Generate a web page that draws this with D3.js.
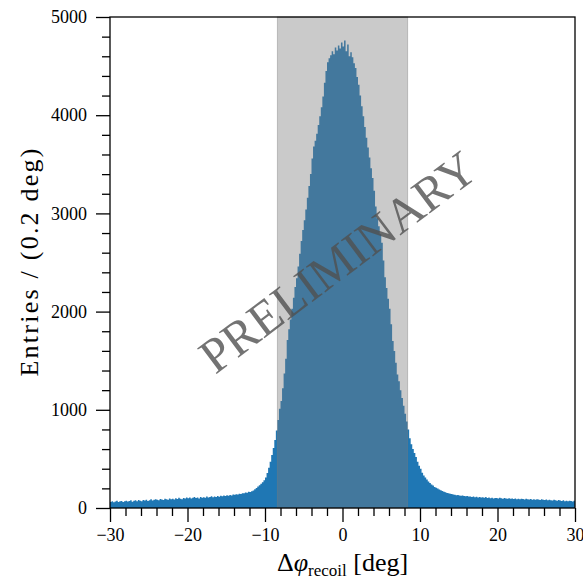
<!DOCTYPE html>
<html>
<head>
<meta charset="utf-8">
<script src="https://cdn.jsdelivr.net/npm/d3@7"></script>
<style>
    body { margin: 0; background: #fff; }
    svg text { font-family: 'Liberation Serif', 'DejaVu Serif', serif; fill: #000; }
</style>
</head>
<body>
<div id="chart"></div>
<script>
// histogram range and bin width (deg)
const binLow = -30
const binHigh = 30
const binWidth = 0.2

// entries per 0.2 deg bin (left to right)
const counts = [
    62, 70, 58, 66, 74, 61, 69, 72, 60, 68,
    75, 66, 71, 80, 64, 73, 78, 69, 82, 74,
    70, 81, 77, 85, 72, 79, 88, 76, 83, 90,
    84, 78, 92, 86, 81, 95, 88, 84, 97, 90,
    93, 87, 99, 92, 104, 95, 90, 101, 97, 106,
    99, 108, 96, 104, 111, 101, 107, 98, 113, 105,
    110, 104, 116, 108, 113, 120, 109, 117, 112, 122,
    115, 124, 119, 127, 121, 130, 125, 133, 128, 137,
    134, 141, 138, 146, 143, 151, 149, 158, 155, 165,
    162, 171, 178, 190, 203, 218, 232, 246, 263, 282,
    310, 356, 410, 470, 540, 610, 692, 790, 896, 1010,
    1090, 1220, 1370, 1520, 1710, 1820, 1920, 2030, 2140, 2250,
    2340, 2460, 2590, 2720, 2830, 2930, 3040, 3160, 3280, 3400,
    3560, 3680, 3740, 3810, 3900, 3990, 4080, 4190, 4330, 4450,
    4540, 4580, 4610, 4650, 4620, 4690, 4660, 4710, 4680, 4740,
    4700, 4760, 4650, 4720, 4600, 4640, 4590, 4530, 4480, 4390,
    4310, 4200, 4090, 3990, 3880, 3770, 3670, 3570, 3460, 3360,
    3230, 3070, 2950, 2870, 2790, 2700, 2520, 2350, 2240, 2130,
    2030, 1870, 1700, 1600, 1480, 1360, 1290, 1200, 1120, 1040,
    960, 880, 800, 710, 650, 600, 560, 520, 470, 430,
    400, 360, 330, 310, 290, 270, 255, 240, 228, 215,
    206, 198, 188, 180, 172, 166, 160, 153, 150, 145,
    142, 138, 136, 131, 133, 127, 124, 128, 121, 119,
    122, 116, 118, 113, 117, 110, 114, 108, 112, 106,
    109, 104, 111, 102, 106, 100, 105, 98, 103, 101,
    97, 104, 99, 95, 101, 96, 93, 99, 94, 97,
    92, 98, 90, 95, 88, 94, 91, 86, 93, 89,
    87, 92, 85, 90, 83, 88, 86, 81, 89, 84,
    82, 87, 79, 84, 80, 76, 83, 78, 74, 81,
    77, 72, 79, 70, 75, 68, 74, 71, 66, 73,
]

// selection window
const windowLow = -8.4
const windowHigh = 8.4

// ticks
const xMajorTicks = [-30, -20, -10, 0, 10, 20, 30]
const xMinorTicks = d3.range(-28, 30, 2).filter((v) => v % 10 !== 0)
const yMajorTicks = [0, 1000, 2000, 3000, 4000, 5000]
const yMinorTicks = d3.range(200, 5000, 200).filter((v) => v % 1000 !== 0)

const watermark = 'PRELIMINARY'

// set up dimensions and margins
const width = 583
const height = 579
const margin = { top: 17, right: 8, bottom: 71, left: 110 }

const svg = d3
    .select('#chart')
    .append('svg')
    .attr('width', width)
    .attr('height', height)

// x scale
const x = d3
    .scaleLinear()
    .domain([binLow, binHigh])
    .range([margin.left, width - margin.right])

// y scale
const y = d3
    .scaleLinear()
    .domain([0, 5000])
    .range([height - margin.bottom, margin.top])

// bins: left edge + count, plus closing edge for the step
const bins = counts.map((c, i) => ({ x0: binLow + i * binWidth, v: c }))
bins.push({ x0: binHigh, v: counts[counts.length - 1] })

const area = d3
    .area()
    .x((d) => x(d.x0))
    .y0(y(0))
    .y1((d) => y(d.v))
    .curve(d3.curveStepAfter)

svg.append('path')
    .datum(bins)
    .attr('fill', '#1f77b4')
    .attr('d', area)

// shaded window on top
svg.append('rect')
    .attr('x', x(windowLow))
    .attr('y', y(5000))
    .attr('width', x(windowHigh) - x(windowLow))
    .attr('height', y(0) - y(5000))
    .attr('fill', '#7a7a7a')
    .attr('fill-opacity', 0.4)
    .attr('stroke', '#7a7a7a')
    .attr('stroke-opacity', 0.4)

// watermark
svg.append('text')
    .attr('transform', `translate(338,262) rotate(-37)`)
    .attr('text-anchor', 'middle')
    .attr('dominant-baseline', 'central')
    .style('font-size', '49px')
    .style('fill', '#505050')
    .style('fill-opacity', 0.8)
    .text(watermark)

// x axis
const xAxisG = svg
    .append('g')
    .attr('transform', `translate(0,${y(0)})`)

xAxisG
    .append('g')
    .call(d3.axisBottom(x).tickValues(xMinorTicks).tickSize(8).tickFormat(''))
    .call((g) => g.select('.domain').remove())

xAxisG
    .append('g')
    .call(d3.axisBottom(x).tickValues(xMajorTicks).tickSize(14).tickPadding(6).tickSizeOuter(0))
    .call((g) => g.select('.domain').remove())
    .style('font-size', '18px')

// y axis
const yAxisG = svg.append('g').attr('transform', `translate(${x(binLow)},0)`)

yAxisG
    .append('g')
    .call(d3.axisLeft(y).tickValues(yMinorTicks).tickSize(8).tickFormat(''))
    .call((g) => g.select('.domain').remove())

yAxisG
    .append('g')
    .call(d3.axisLeft(y).tickValues(yMajorTicks).tickSize(14).tickPadding(9).tickFormat(d3.format('d')))
    .call((g) => g.select('.domain').remove())
    .style('font-size', '18px')

svg.selectAll('.tick line').attr('stroke', '#000').attr('stroke-width', 1.3)
svg.selectAll('.tick text').style('font-family', "'Liberation Serif', serif")

// frame
svg.append('rect')
    .attr('x', x(binLow))
    .attr('y', y(5000))
    .attr('width', x(binHigh) - x(binLow))
    .attr('height', y(0) - y(5000))
    .attr('fill', 'none')
    .attr('stroke', '#000')
    .attr('stroke-width', 1.3)

// x label
const xLabel = svg
    .append('text')
    .attr('x', (x(binLow) + x(binHigh)) / 2)
    .attr('y', 571)
    .attr('text-anchor', 'middle')
    .style('font-size', '26px')
xLabel.append('tspan').text('Δ')
xLabel.append('tspan').style('font-style', 'italic').text('φ')
xLabel.append('tspan').attr('dy', 5).style('font-size', '17px').text('recoil')
xLabel.append('tspan').attr('dy', -5).text(' [deg]')

// y label
svg.append('text')
    .attr('transform', `translate(38,${(y(0) + y(5000)) / 2}) rotate(-90)`)
    .attr('text-anchor', 'middle')
    .attr('textLength', 228)
    .attr('lengthAdjust', 'spacing')
    .style('font-size', '26px')
    .text('Entries / (0.2 deg)')
</script>
</body>
</html>
